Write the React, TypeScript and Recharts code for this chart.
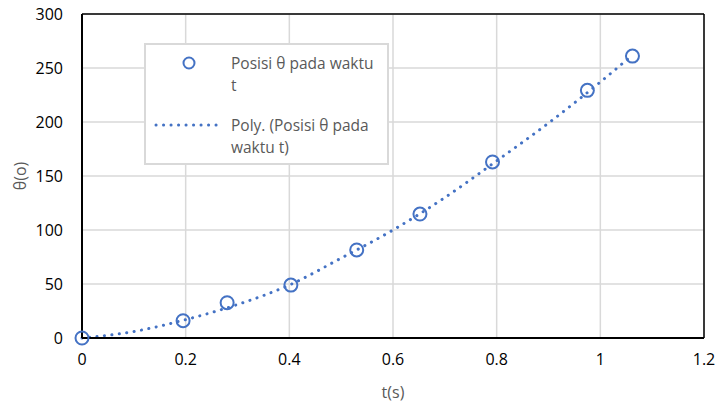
import React from "react";
import {
  ComposedChart,
  XAxis,
  YAxis,
  CartesianGrid,
  Scatter,
  Line,
  ReferenceLine,
} from "recharts";

// measured positions (t in s, theta in degrees)
const posT = [0, 0.195, 0.28, 0.403, 0.53, 0.652, 0.792, 0.975, 1.062];
const posTheta = [0, 16, 32.7, 49, 81.5, 114.8, 163, 229.3, 261];

// polynomial trendline
const trendT = [0, 0.1, 0.2, 0.3, 0.4, 0.5, 0.6, 0.7, 0.8, 0.9, 1.0, 1.062];
const trendTheta = [0, 6, 17, 31, 49, 74, 100, 130, 164, 199, 237, 262];

const xTicks = [0, 0.2, 0.4, 0.6, 0.8, 1, 1.2];
const yTicks = [0, 50, 100, 150, 200, 250, 300];

const points = posT.map((t, i) => ({ t, theta: posTheta[i] }));
const trend = trendT.map((t, i) => ({ t, fit: trendTheta[i] }));

const BLUE = "#4472C4";
const FONT = "'Open Sans', sans-serif";

const LegendBox = () => (
  <div
    style={{
      position: "absolute",
      left: 144,
      top: 43,
      width: 241,
      height: 118,
      border: "2px solid #d9d9d9",
      background: "#fff",
      fontFamily: FONT,
      fontSize: 15.5,
      color: "#595959",
      lineHeight: "22px",
    }}
  >
    <svg width={80} height={118} style={{ position: "absolute", left: 0, top: 0 }}>
      <circle cx={43} cy={18} r={5.5} fill="none" stroke={BLUE} strokeWidth={2} />
      <line
        x1={10}
        x2={76}
        y1={80}
        y2={80}
        stroke={BLUE}
        strokeWidth={3}
        strokeDasharray="0.1 7.4"
        strokeLinecap="round"
      />
    </svg>
    <div style={{ position: "absolute", left: 85, top: 7, whiteSpace: "nowrap" }}>
      Posisi θ pada waktu
      <br />t
    </div>
    <div style={{ position: "absolute", left: 85, top: 69, whiteSpace: "nowrap" }}>
      Poly. (Posisi θ pada
      <br />
      waktu t)
    </div>
  </div>
);

const YLabel = ({ viewBox }: any) => {
  const cx = 20;
  const cy = viewBox.y + viewBox.height / 2;
  return (
    <text
      x={cx}
      y={cy}
      transform={`rotate(-90 ${cx} ${cy})`}
      textAnchor="middle"
      dominantBaseline="central"
      fill="#595959"
      fontSize={16}
      fontFamily={FONT}
    >
      θ(o)
    </text>
  );
};

const XLabel = ({ viewBox }: any) => {
  const cx = viewBox.x + viewBox.width / 2;
  return (
    <text
      x={cx}
      y={392}
      textAnchor="middle"
      dominantBaseline="central"
      fill="#595959"
      fontSize={16}
      fontFamily={FONT}
    >
      t(s)
    </text>
  );
};

const Ring = (props: any) => {
  const { cx, cy } = props;
  return <circle cx={cx} cy={cy} r={6.5} fill="none" stroke={BLUE} strokeWidth={2} />;
};

export default function App() {
  return (
    <div
      style={{
        position: "absolute",
        left: 0,
        top: 0,
        width: 721,
        height: 404,
        background: "#fff",
      }}
    >
      <ComposedChart
        width={721}
        height={404}
        margin={{ top: 14, right: 17, bottom: 36, left: 12 }}
        style={{ fontFamily: FONT }}
      >
        <CartesianGrid stroke="#d9d9d9" strokeWidth={1.5} />
        <XAxis
          type="number"
          dataKey="t"
          domain={[0, 1.2]}
          ticks={xTicks}
          tickSize={0}
          tickMargin={16}
          height={30}
          axisLine={{ stroke: "#000", strokeWidth: 2 }}
          tick={{ fill: "#000", fontSize: 16 }}
          label={<XLabel />}
        />
        <YAxis
          type="number"
          domain={[0, 300]}
          ticks={yTicks}
          tickSize={0}
          tickMargin={19}
          width={70}
          axisLine={{ stroke: "#000", strokeWidth: 2 }}
          tick={{ fill: "#000", fontSize: 16 }}
          label={<YLabel />}
        />
        <ReferenceLine y={300} stroke="#000" strokeWidth={1.5} />
        <ReferenceLine x={1.2} stroke="#000" strokeWidth={1.5} />
        <Line
          data={trend}
          dataKey="fit"
          type="monotone"
          stroke={BLUE}
          strokeWidth={3}
          strokeDasharray="0.1 7.4"
          strokeLinecap="round"
          dot={false}
          activeDot={false}
          legendType="none"
          isAnimationActive={false}
        />
        <Scatter
          data={points}
          dataKey="theta"
          shape={<Ring />}
          isAnimationActive={false}
        />
      </ComposedChart>
      <LegendBox />
    </div>
  );
}
